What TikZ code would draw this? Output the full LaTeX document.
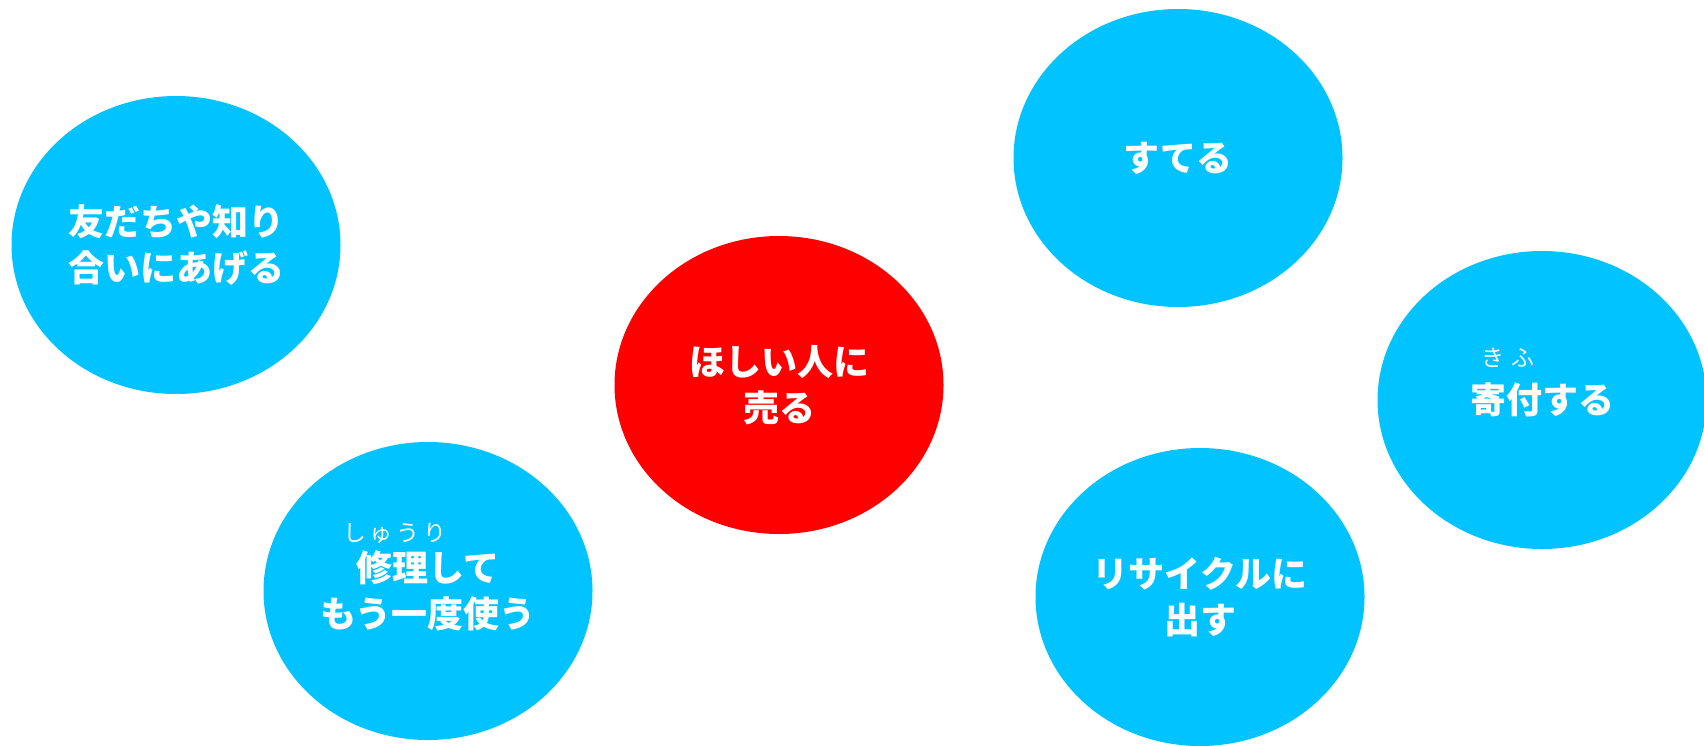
\documentclass[tikz,border=0pt]{standalone}
\usepackage{fontspec}
\newfontfamily\jp{Noto Sans CJK JP}
\usetikzlibrary{shapes.geometric}
\definecolor{skyb}{HTML}{00C3FF}
\definecolor{redc}{HTML}{FF0000}
\begin{document}
\begin{tikzpicture}[x=1pt,y=-1pt,
  blob/.style={ellipse, fill=skyb, draw=none, minimum width=329pt, minimum height=298pt,
    inner sep=0pt, text=white, font=\jp\bfseries\fontsize{36}{46}\selectfont, align=center},
  centerblob/.style={blob, fill=redc},
  ruby/.style={text=white, font=\jp\fontsize{23}{26}\selectfont, inner sep=0pt}]
\useasboundingbox (0,0) rectangle (1704,745);
\clip (0,0) rectangle (1704,745);
\node[blob] (tomo) at (176,245) {友だちや知り\\合いにあげる};
\node[centerblob] (uru) at (779,385) {ほしい人に\\売る};
\node[blob] (suteru) at (1178,158) {すてる};
\node[blob] (kifu) at (1542,400) {寄付する};
\node[blob] (shuri) at (428,591) {修理して\\もう一度使う};
\node[blob] (recycle) at (1200,597) {リサイクルに\\出す};
\node[ruby] (shurir) at (395,533) {し\hspace{4pt}ゅ\hspace{4pt}う\hspace{4pt}り};
\node[ruby] (kifur) at (1508,358) {き\hspace{7pt}ふ};
\end{tikzpicture}
\end{document}
